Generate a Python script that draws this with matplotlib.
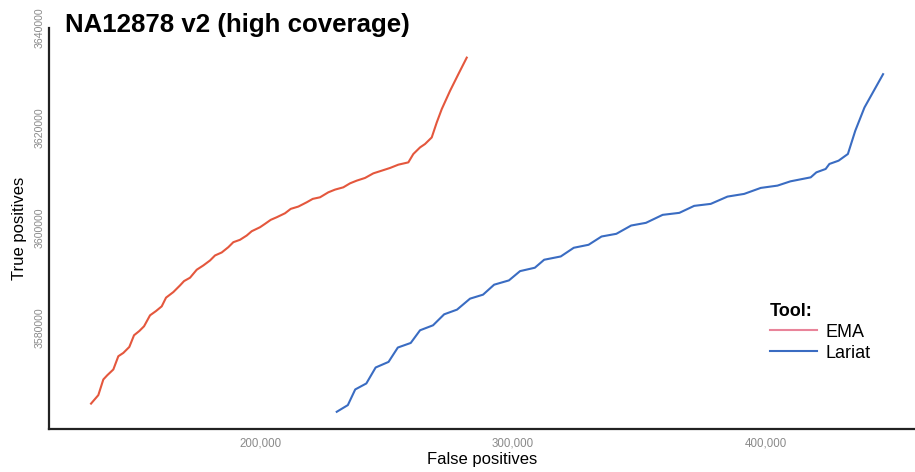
import matplotlib
matplotlib.use("Agg")
import matplotlib.pyplot as plt
from matplotlib.lines import Line2D
from matplotlib.ticker import FuncFormatter

plt.rcParams['font.family'] = ['Liberation Sans', 'DejaVu Sans']

# ROC-style curves: false positives vs true positives per tool
ema_fp = [133200, 136080, 138060, 139640, 142010, 143990, 145960, 148330, 150190, 152290,
          154150, 156520, 158890, 161140, 162840, 165730, 168380, 169960, 172330, 174980,
          177590, 180240, 182210, 184860, 187470, 189450, 192090, 194740, 196720, 200000,
          201980, 204230, 206600, 209880, 212140, 215140, 218460, 220830, 223720, 227000,
          229650, 232930, 235580, 238230, 241510, 244790, 248110, 251390, 254670, 258620,
          260600, 263250, 265220, 267870, 269850, 271830, 275110, 278390, 281710]
ema_tp = [3564700, 3566400, 3569540, 3570400, 3571540, 3574200, 3574860, 3576060, 3578400, 3579260,
          3580200, 3582400, 3583260, 3584200, 3585940, 3587060, 3588400, 3589260, 3589940, 3591540,
          3592400, 3593400, 3594400, 3595000, 3596060, 3597060, 3597540, 3598400, 3599260, 3600060,
          3600740, 3601540, 3602060, 3602860, 3603740, 3604200, 3605060, 3605740, 3606060, 3607060,
          3607600, 3608060, 3608860, 3609400, 3609940, 3610860, 3611400, 3611940, 3612600, 3613060,
          3614740, 3616060, 3616740, 3618060, 3621060, 3623740, 3627400, 3630740, 3634060]

lariat_fp = [230320, 234710, 237630, 242020, 245700, 250800, 254470, 259570, 263250, 268390,
             272780, 277870, 283010, 288150, 292540, 298390, 302780, 308630, 312310, 318870,
             324010, 329860, 335000, 340850, 346700, 352550, 359150, 365750, 371600, 378160,
             384770, 391370, 397930, 404530, 409670, 417690, 419910, 423590, 425050, 428690,
             432370, 435290, 438920, 442600, 446280]
lariat_tp = [3563060, 3564400, 3567540, 3568740, 3571940, 3573060, 3575940, 3576860, 3579400, 3580400,
             3582600, 3583540, 3585740, 3586540, 3588540, 3589400, 3591260, 3591940, 3593540, 3594200,
             3595940, 3596540, 3598200, 3598740, 3600400, 3600940, 3602540, 3602940, 3604340, 3604740,
             3606200, 3606740, 3607940, 3608400, 3609260, 3610060, 3611060, 3611740, 3612740, 3613400,
             3614740, 3619400, 3624060, 3627400, 3630740]

x_ticks = [200000, 300000, 400000]
y_ticks = [3580000, 3600000, 3620000, 3640000]

fig = plt.figure(figsize=(9.15, 4.72), dpi=100)
ax = fig.add_axes([0.0536, 0.091, 0.9464, 0.8497])

ax.plot(ema_fp, ema_tp, color='#e4573d', linewidth=1.5, solid_joinstyle='round')
ax.plot(lariat_fp, lariat_tp, color='#3a6cc2', linewidth=1.5, solid_joinstyle='round')

ax.set_xlim(116600, 458900)
ax.set_ylim(3559600, 3639800)
ax.set_xticks(x_ticks)
ax.set_yticks(y_ticks)
ax.xaxis.set_major_formatter(FuncFormatter(lambda v, p: f'{int(v):,}'))
ax.yaxis.set_major_formatter(FuncFormatter(lambda v, p: f'{int(v)}'))
ax.tick_params(axis='x', length=0, labelsize=8.3, labelcolor='#8a8a8a', pad=6)
ax.tick_params(axis='y', length=0, labelsize=7.6, labelcolor='#8a8a8a', pad=3)
for lbl in ax.get_yticklabels():
    lbl.set_rotation(90)
    lbl.set_va('center')

for side in ['top', 'right']:
    ax.spines[side].set_visible(False)
for side in ['left', 'bottom']:
    ax.spines[side].set_linewidth(1.6)
    ax.spines[side].set_color('#222222')

ax.set_xlabel('False positives', fontsize=12, labelpad=2)
ax.set_ylabel('True positives', fontsize=12, labelpad=6)

fig.text(0.071, 0.948, 'NA12878 v2 (high coverage)', fontsize=18.6, fontweight='bold',
         va='center', ha='left')

handles = [Line2D([], [], color='#e9849a', linewidth=1.5),
           Line2D([], [], color='#3a6cc2', linewidth=1.5)]
leg = ax.legend(handles, ['EMA', 'Lariat'], title='Tool:', loc='upper left',
                bbox_to_anchor=(0.824, 0.333), frameon=False, fontsize=13,
                title_fontproperties={'weight': 'bold', 'size': 13},
                handlelength=2.6, handletextpad=0.5, labelspacing=0.22,
                alignment='left', borderaxespad=0)

fig.savefig('out.png', dpi=100)
